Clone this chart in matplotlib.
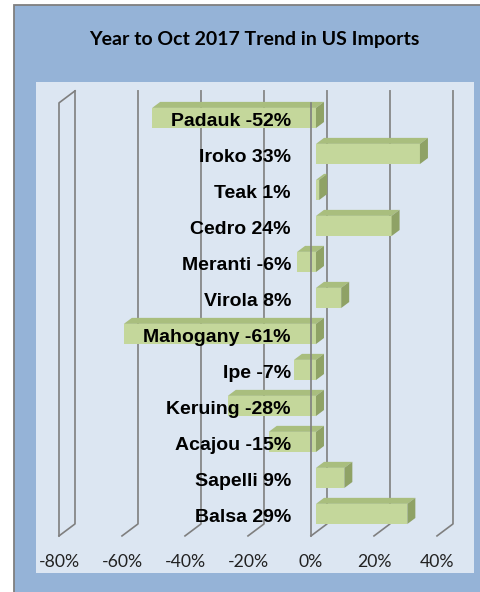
import matplotlib.pyplot as plt
from matplotlib.patches import Polygon, Rectangle
from matplotlib.transforms import IdentityTransform, ScaledTranslation

woods = ["Padauk", "Iroko", "Teak", "Cedro", "Meranti", "Virola",
         "Mahogany", "Ipe", "Keruing", "Acajou", "Sapelli", "Balsa"]
change = [-52, 33, 1, 24, -6, 8, -61, -7, -28, -15, 9, 29]
ticks = [-80, -60, -40, -20, 0, 20, 40]
tick_labels = [f"{t}%" for t in ticks]

W, H = 480, 592
fig = plt.figure(figsize=(W / 100, H / 100), dpi=100, facecolor="white")
fig.patches.append(Rectangle((14 / W, -0.01), 1, 1.01 - 5 / H, transform=fig.transFigure,
                             facecolor="#95B3D7", edgecolor="#7F7F7F", lw=1.3, zorder=-1))

ax = fig.add_axes([36 / W, 1 - 573 / H, (474 - 36) / W, (573 - 82) / H])
ax.set_facecolor("#DCE6F2")
ax.set_xlim(-87.3, 51.75)
ax.set_ylim(12.53, -1.11)
ax.set_xticks([])
ax.set_yticks([])
for s in ax.spines.values():
    s.set_visible(False)

ident = IdentityTransform()
grid_kw = dict(color="#7F7F7F", lw=1.2, transform=ident, clip_on=False)
depth = (16, 12)          # back wall offset in pixels
wall_top, wall_bot = -0.53, 11.5


def disp(x, y, dx=0, dy=0):
    px, py = ax.transData.transform((x, y))
    return px + dx, py + dy


# 3D gridlines / walls
for t in ticks:
    ft = disp(t, wall_top)
    fb = disp(t, wall_bot)
    bt = disp(t, wall_top, *depth)
    bb = disp(t, wall_bot, *depth)
    ax.plot([bt[0], bb[0], fb[0]], [bt[1], bb[1], fb[1]], zorder=1, **grid_kw)
    if t == ticks[0]:
        ax.plot([bt[0], ft[0], fb[0]], [bt[1], ft[1], fb[1]], zorder=1, **grid_kw)

# bars
bar_h = 0.56
off = (5, 4)
bd = (8, 6)
for i, v in enumerate(change):
    x0, x1 = min(0, v), max(0, v)
    bl = disp(x0, i + bar_h / 2, *off)
    br = disp(x1, i + bar_h / 2, *off)
    tl = disp(x0, i - bar_h / 2, *off)
    tr = disp(x1, i - bar_h / 2, *off)
    front = [bl, br, tr, tl]
    top = [tl, tr, (tr[0] + bd[0], tr[1] + bd[1]), (tl[0] + bd[0], tl[1] + bd[1])]
    side = [br, tr, (tr[0] + bd[0], tr[1] + bd[1]), (br[0] + bd[0], br[1] + bd[1])]
    for pts, col in [(front, "#C4D79B"), (top, "#A9BE7E"), (side, "#8FA266")]:
        ax.add_patch(Polygon(pts, closed=True, facecolor=col, edgecolor="none",
                             transform=ident, zorder=2))

# front line of the value axis wall
zt = disp(0, wall_top)
zb = disp(0, wall_bot)
ax.plot([zt[0], zb[0]], [zt[1], zb[1]], zorder=3, **grid_kw)

# category labels
lab_tr = ax.transData + ScaledTranslation(-0.20, 0, fig.dpi_scale_trans)
for i, (w, v) in enumerate(zip(woods, change)):
    ax.text(0, i, f"{w} {v}%", transform=lab_tr, ha="right", va="center",
            fontfamily="Liberation Sans", fontweight="bold", fontsize=14,
            color="black", zorder=4)

# value tick labels
for t, lab in zip(ticks, tick_labels):
    ax.text(t, (573 - 562) / (573 - 82), lab, transform=ax.get_xaxis_transform(),
            ha="center", va="center", fontfamily="Lato", fontsize=12.7, color="#222222")

fig.text(254 / W, 1 - 40 / H, "Year to Oct 2017 Trend in US Imports",
         ha="center", va="center", fontfamily="Lato", fontweight="bold",
         fontsize=14, color="black")

fig.savefig("out.png", dpi=100)
